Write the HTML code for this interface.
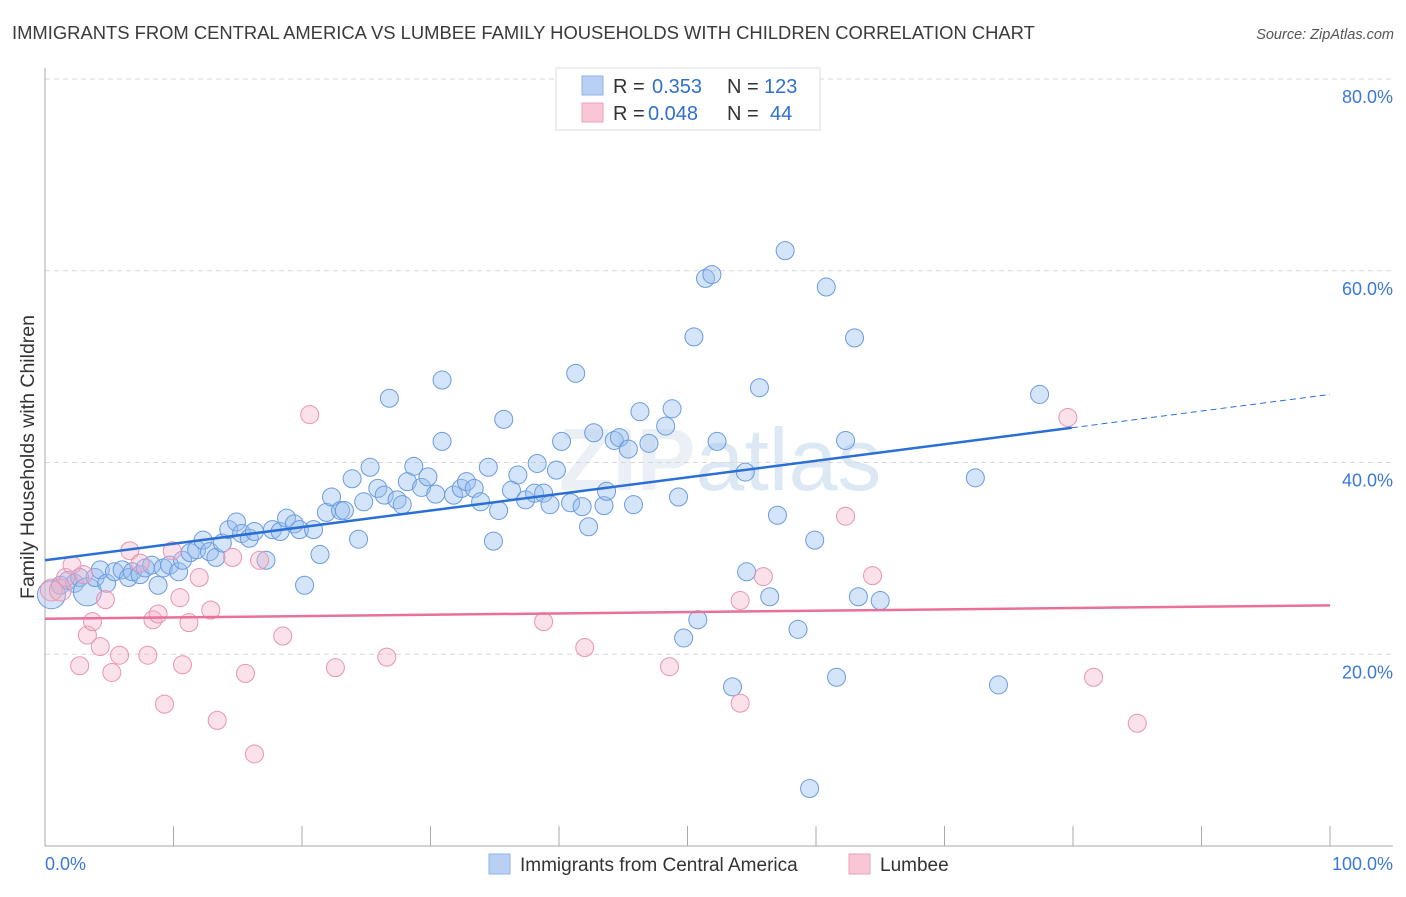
<!DOCTYPE html>
<html><head><meta charset="utf-8"><style>
body{margin:0;background:#fff;font-family:"Liberation Sans",sans-serif;}
svg text{font-family:"Liberation Sans",sans-serif;}
</style></head><body>
<svg id="c" width="1406" height="892">
<text x="12" y="39" font-size="18.4" fill="#3a3a3a">IMMIGRANTS FROM CENTRAL AMERICA VS LUMBEE FAMILY HOUSEHOLDS WITH CHILDREN CORRELATION CHART</text>
<text x="1394" y="39" font-size="14.5" fill="#555" font-style="italic" text-anchor="end">Source: ZipAtlas.com</text>
<text x="720" y="490" font-size="88" fill="#ebf0f6" text-anchor="middle" font-weight="bold">ZIP<tspan fill="#dde8f5" font-weight="normal">atlas</tspan></text>
<text transform="translate(34,457) rotate(-90)" font-size="19.5" fill="#333" text-anchor="middle">Family Households with Children</text>
<g id="grid"></g><g id="pts"></g><g id="lines"></g>
<g>
<rect x="556" y="68" width="264" height="62" fill="#fff" stroke="#ddd"/>
<rect x="582" y="76" width="21" height="19" fill="#b7d0f3" stroke="#8fb3e8"/>
<rect x="582" y="103" width="21" height="19" fill="#f9c6d5" stroke="#eea0b9"/>
<text x="613" y="93" font-size="20" fill="#333">R =</text>
<text x="652" y="93" font-size="20" fill="#2f6fd0">0.353</text>
<text x="727" y="93" font-size="20" fill="#333">N =</text>
<text x="764" y="93" font-size="20" fill="#2f6fd0">123</text>
<text x="613" y="120" font-size="20" fill="#333">R =</text>
<text x="648" y="120" font-size="20" fill="#2f6fd0">0.048</text>
<text x="727" y="120" font-size="20" fill="#333">N =</text>
<text x="770" y="120" font-size="20" fill="#2f6fd0">44</text>
</g>
<g>
<rect x="489" y="854" width="21" height="20" fill="#b7d0f3" stroke="#8fb3e8"/>
<text x="520" y="871" font-size="19" fill="#333">Immigrants from Central America</text>
<rect x="849" y="854" width="21" height="20" fill="#f9c6d5" stroke="#eea0b9"/>
<text x="880" y="871" font-size="19" fill="#333">Lumbee</text>
</g>
</svg>
<script>
const blueX=[0.5,1.2,1.8,2.3,2.7,3.3,3.9,4.3,4.8,5.4,6.0,6.5,6.8,7.4,7.8,8.3,8.8,9.2,9.7,10.4,10.7,11.3,11.8,12.3,12.8,13.3,13.8,14.3,14.9,15.3,15.9,16.3,17.2,17.7,18.3,18.8,19.4,19.8,20.2,20.9,21.4,21.9,22.3,23.0,23.3,23.9,24.4,24.8,25.3,25.9,26.4,26.8,27.4,27.8,28.2,28.7,29.3,29.8,30.4,30.9,30.9,31.8,32.4,32.8,33.4,33.9,34.5,34.9,35.3,35.7,36.3,36.8,37.4,38.1,38.3,38.8,39.3,39.8,40.2,40.9,41.3,41.8,42.3,42.7,43.5,43.7,44.3,44.7,45.4,45.8,46.3,47.0,48.3,48.8,49.3,49.7,50.5,50.8,51.4,51.9,52.3,53.5,54.5,54.6,55.6,56.4,57.0,57.6,58.4,58.6,59.5,59.9,60.8,61.6,62.3,63.0,63.3,65.0,72.4,74.2,77.4];
const blueY=[26.2,27.2,27.7,27.4,28.0,26.5,28.0,28.8,27.4,28.6,28.8,28.0,28.6,28.3,29.0,29.3,27.2,29.0,29.3,28.6,29.8,30.6,30.9,31.9,30.7,30.1,31.6,33.0,33.8,32.6,32.1,32.8,29.8,33.0,32.8,34.2,33.6,33.0,27.2,33.0,30.4,34.8,36.4,35.0,35.0,38.3,32.0,35.9,39.5,37.3,36.6,46.7,36.1,35.6,38.0,39.6,37.4,38.5,36.7,42.2,48.6,36.6,37.3,38.0,37.3,35.9,39.5,31.8,35.0,44.5,37.1,38.7,36.1,36.8,39.9,36.8,35.6,39.2,42.2,35.8,49.3,35.4,33.3,43.1,35.5,37.0,42.3,42.6,41.4,35.6,45.3,42.0,43.8,45.6,36.4,21.7,53.1,23.6,59.2,59.6,42.2,16.6,39.0,28.6,47.8,26.0,34.5,62.1,77.3,22.6,6.0,31.9,58.3,17.6,42.3,53.0,26.0,25.6,38.4,16.8,47.1];
const pinkX=[0.5,1.2,1.6,2.1,2.7,3.0,3.3,3.7,4.3,4.7,5.2,5.8,6.6,7.4,8.0,8.4,8.8,9.3,9.9,10.5,10.7,11.2,12.0,12.9,13.4,14.6,15.6,16.3,16.7,18.5,20.6,22.6,26.6,38.8,42.0,48.6,54.1,54.1,55.9,62.3,64.4,79.6,81.6,85.0];
const pinkY=[26.7,26.7,28.0,29.3,18.8,28.3,22.0,23.4,20.8,25.7,18.1,19.9,30.8,29.5,19.9,23.6,24.2,14.8,30.8,25.9,18.9,23.3,28.0,24.6,13.1,30.1,18.0,9.6,29.8,21.9,45.0,18.6,19.7,23.4,20.7,18.7,25.6,14.9,28.1,34.4,28.2,44.7,17.6,12.8];
const blueTrend=[29.8,47.1], blueSolidEnd=79.9;
const pinkTrend=[23.7,25.1];
const yTicks=[20,40,60,80];
const xTickVals=[0,10,20,30,40,50,60,70,80,90,100];
const NS="http://www.w3.org/2000/svg";
const X=v=>45+v*12.85, Y=v=>846-v*9.5875;
function mk(t,a,p){const e=document.createElementNS(NS,t);for(const k in a)e.setAttribute(k,a[k]);p.appendChild(e);return e;}
const g=document.getElementById('grid');
yTicks.forEach(t=>{
 const l=mk('line',{x1:45,x2:1393,y1:Y(t),y2:Y(t),stroke:'#d8d8d8','stroke-dasharray':'5,4'},g);
 
 
 const tx=mk('text',{x:1393,y:Y(t)+24,'font-size':18,fill:'#3b78d8','text-anchor':'end'},g);
 tx.textContent=t.toFixed(1)+'%';
 
 
});
const ax=mk('line',{x1:45,x2:45,y1:68,y2:846,stroke:'#aaa'},g);


const bx=mk('line',{x1:45,x2:1393,y1:846,y2:846,stroke:'#aaa'},g);


xTickVals.forEach(t=>{
 const l=mk('line',{x1:X(t),x2:X(t),y1:826,y2:846,stroke:'#aaa'},g);
 
 
});
[[0,'0.0%','start',45],[100,'100.0%','end',1393]].forEach(([v,s,a,px])=>{
 const t=mk('text',{x:px,y:870,'font-size':18,fill:'#3b78d8','text-anchor':a},g);t.textContent=s;
 
 
});
const p=document.getElementById('pts');
blueX.forEach((x,i)=>{
 const c=mk('circle',{cx:X(x),cy:Y(blueY[i]),r:(i==0||i==5)?14:9,fill:'rgba(150,190,240,0.4)',stroke:'#6b9be0','stroke-width':1},p);
 
 
});
pinkX.forEach((x,i)=>{
 const c=mk('circle',{cx:X(x),cy:Y(pinkY[i]),r:i<2?11:9,fill:'rgba(245,175,198,0.38)',stroke:'#e994b0','stroke-width':1},p);
 
 
});
const L=document.getElementById('lines');
const bv=x=>blueTrend[0]+(blueTrend[1]-blueTrend[0])*x/100;
const b1=mk('line',{x1:X(0),y1:Y(bv(0)),x2:X(blueSolidEnd),y2:Y(bv(blueSolidEnd)),stroke:'#2a6fd6','stroke-width':2.5},L);


const b2=mk('line',{x1:X(blueSolidEnd),y1:Y(bv(blueSolidEnd)),x2:X(100),y2:Y(bv(100)),stroke:'#2a6fd6','stroke-width':1,'stroke-dasharray':'6,4'},L);


const pl=mk('line',{x1:X(0),y1:Y(pinkTrend[0]),x2:X(100),y2:Y(pinkTrend[1]),stroke:'#e8709a','stroke-width':2.5},L);


</script>
</body></html>
